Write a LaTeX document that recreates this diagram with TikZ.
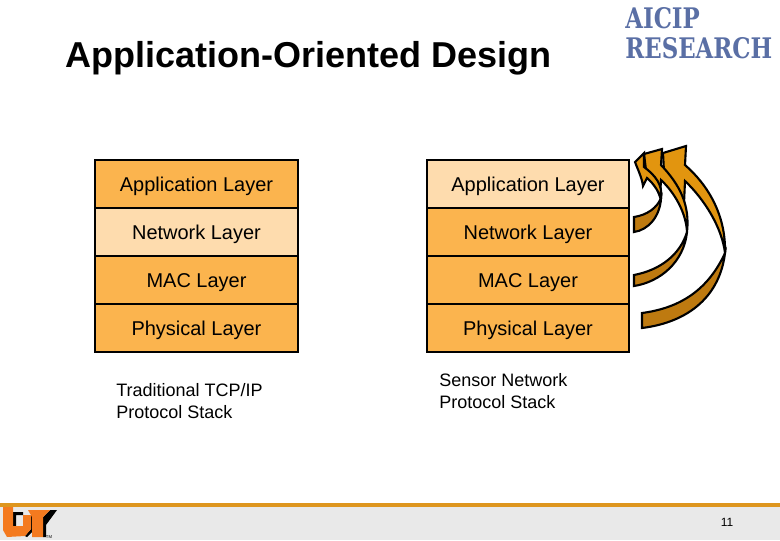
\documentclass[tikz,border=0pt]{standalone}
\usepackage{fontspec}
\setmainfont{Liberation Sans}
\newfontfamily\logofont{DejaVu Serif}
\definecolor{layerorange}{HTML}{FBB44E}
\definecolor{layerlight}{HTML}{FEDCAE}
\definecolor{arrowface}{HTML}{E2950F}
\definecolor{arrowdark}{HTML}{BE7A10}
\definecolor{footerbar}{HTML}{DE961E}
\definecolor{footergray}{HTML}{E9E9E9}
\definecolor{logoblue}{HTML}{5A6FA5}
\definecolor{utorange}{HTML}{F47A1F}
\newcommand{\logoline}[1]{\scalebox{1.05}[1.3]{#1}}
\begin{document}
\begin{tikzpicture}[
        x=0.025cm, y=-0.025cm,
        layerbox/.style={draw=black, line width=1.4pt, minimum width=5.05cm, minimum height=1.2cm, inner sep=0pt, text height=10pt, text depth=0pt, font=\fontsize{14.2}{16}\selectfont},
        stacklabel/.style={align=left, anchor=north west, inner sep=0pt, font=\fontsize{12.8}{15.6}\selectfont},
        arrface/.style={draw=black, line width=1.5pt, fill=arrowface, line join=miter},
        arrdark/.style={draw=black, line width=1.5pt, fill=arrowdark, line join=miter}
    ]
        \useasboundingbox (0,0) rectangle (780,540);
        % footer
        \fill[footergray] (0,505) rectangle (780,540);
        \fill[footerbar] (0,503) rectangle (780,507);
        \node[inner sep=0pt, font=\fontsize{8.5}{10}\selectfont] (pagenum) at (727,522) {11};
        % title and logo
        \node[anchor=west, inner sep=0pt, font=\bfseries\fontsize{25.6}{30}\selectfont] (title) at (65,58) {Application-Oriented Design};
        \node[align=left, anchor=north west, inner sep=0pt, text=logoblue, font=\logofont\bfseries\fontsize{15.5}{21.5}\selectfont] (logo) at (625,7) {\logoline{AICIP}\\\logoline{RESEARCH}};
        % left stack
        \node[layerbox, fill=layerorange] (appL) at (196.5,184) {Application Layer};
        \node[layerbox, fill=layerlight] (netL) at (196.5,232) {Network Layer};
        \node[layerbox, fill=layerorange] (macL) at (196.5,280) {MAC Layer};
        \node[layerbox, fill=layerorange] (phyL) at (196.5,328) {Physical Layer};
        % right stack
        \node[layerbox, fill=layerlight] (appR) at (528,184) {Application Layer};
        \node[layerbox, fill=layerorange] (netR) at (528,232) {Network Layer};
        \node[layerbox, fill=layerorange] (macR) at (528,280) {MAC Layer};
        \node[layerbox, fill=layerorange] (phyR) at (528,328) {Physical Layer};
        \node[stacklabel] (tcpLabel) at (116,383) {Traditional TCP/IP\\Protocol Stack};
        \node[stacklabel] (sensorLabel) at (439,373) {Sensor Network\\Protocol Stack};
        % curved arrows
        \draw[arrdark] (642,313) .. controls (680,308) and (708,290) .. (725,253) .. controls (720,295) and (690,322) .. (642,328) -- cycle;
        \draw[arrface] (663,153) -- (686,146) -- (685,165) .. controls (708,185) and (726,215) .. (725,253) .. controls (722,228) and (705,200) .. (685,181) -- (684,203) .. controls (680,190) and (670,180) .. (664,172) -- cycle;
        \draw[arrdark] (634,275) .. controls (660,270) and (680,255) .. (687,232) .. controls (684,262) and (660,282) .. (634,286) -- cycle;
        \draw[arrface] (644,154) -- (662,149) -- (661,165) .. controls (680,185) and (690,205) .. (687,232) .. controls (686,212) and (674,192) .. (661,180) -- (660,197) .. controls (656,185) and (650,175) .. (646,170) -- cycle;
        \draw[arrdark] (634,217) .. controls (647,215) and (657,208) .. (661,198) .. controls (660,217) and (648,230) .. (634,232) -- cycle;
        \draw[arrface] (635,162) -- (644,153) -- (644,167) .. controls (655,175) and (663,185) .. (661,198) .. controls (658,190) and (652,182) .. (647,178) -- (643,186) .. controls (642,178) and (638,170) .. cycle;
        % UT logo
        \fill[black] (31,515) -- (34,515) -- (34,530) -- (27,537) -- (25,536) -- (31,529) -- cycle;
        \fill[black] (13,512) -- (23,512) -- (23,515) -- (16,515) -- (16,526) -- (13,526) -- cycle;
        \fill[utorange] (3,507) -- (13,507) -- (13,526) -- (23,526) -- (23,515) -- (31,515) -- (31,529) -- (25,536) -- (7,537) -- (3,530) -- cycle;
        \fill[black] (50,510) -- (57,510) -- (46,525) -- (46,537) -- (43,537) -- (43,517) -- cycle;
        \fill[utorange] (28,510) -- (50,510) -- (43,517) -- (43,537) -- (32,537) -- (32,517) -- cycle;
        \node[inner sep=0pt, font=\fontsize{3}{3}\selectfont] (logoTM) at (49,537) {TM};
    \end{tikzpicture}
\end{document}
